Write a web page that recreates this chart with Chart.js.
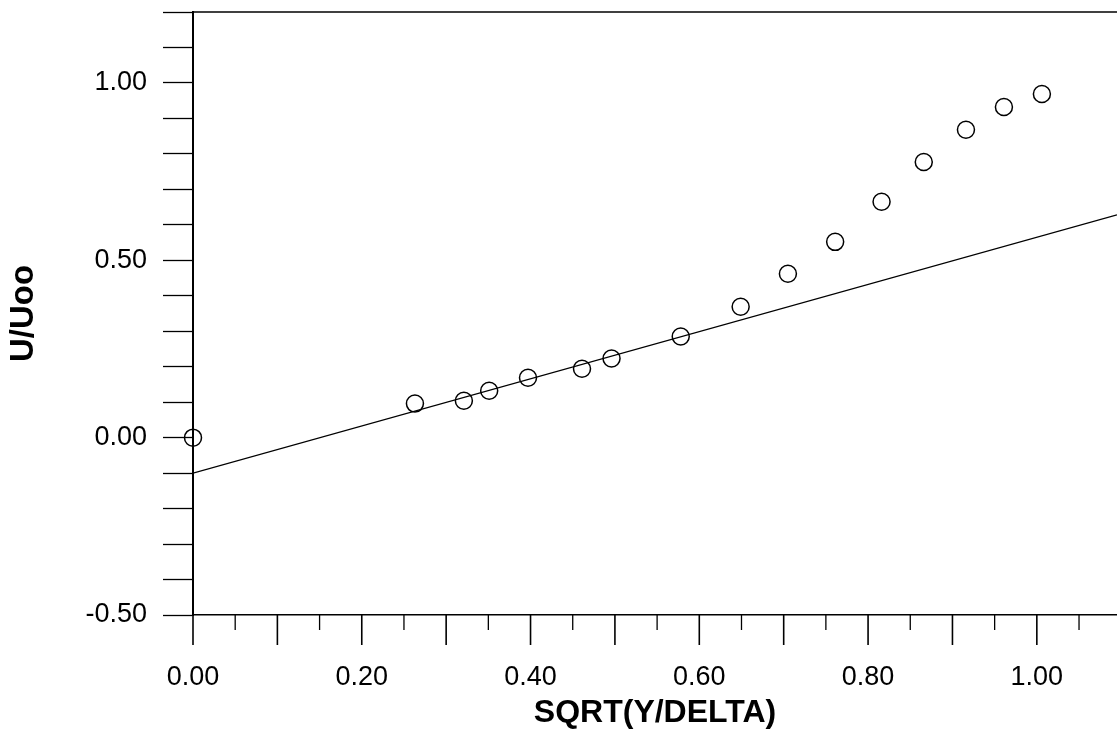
<!DOCTYPE html>
<html>
<head>
<meta charset="utf-8">
<title>U/Uoo vs SQRT(Y/DELTA)</title>
<script src="https://cdn.jsdelivr.net/npm/chart.js@4.4.1/dist/chart.umd.min.js"></script>
<style>
  html, body { margin: 0; padding: 0; background: #fff; overflow: hidden; }
  canvas { display: block; }
</style>
</head>
<body>
<canvas id="profileChart" width="1117" height="738"></canvas>
<script>
const sqrtY = [0.000, 0.263, 0.321, 0.351, 0.397, 0.461, 0.496, 0.578, 0.649, 0.705, 0.761, 0.816, 0.866, 0.916, 0.961, 1.006];
const uRatio = [0.000, 0.096, 0.104, 0.132, 0.169, 0.194, 0.223, 0.285, 0.369, 0.462, 0.552, 0.665, 0.777, 0.868, 0.932, 0.969];

// straight fit line, end points
const fitX = [0.000, 1.095];
const fitY = [-0.100, 0.628];

// axis ranges and ticks
const xMin = 0, xMax = 1.095;
const yMin = -0.5, yMax = 1.2;
const xTickValues = [0.00, 0.05, 0.10, 0.15, 0.20, 0.25, 0.30, 0.35, 0.40, 0.45, 0.50,
                     0.55, 0.60, 0.65, 0.70, 0.75, 0.80, 0.85, 0.90, 0.95, 1.00, 1.05];
const xTickLabels = ['0.00', '0.20', '0.40', '0.60', '0.80', '1.00'];
const yTickValues = [-0.5, -0.4, -0.3, -0.2, -0.1, 0.0, 0.1, 0.2, 0.3, 0.4, 0.5,
                     0.6, 0.7, 0.8, 0.9, 1.0, 1.1, 1.2];
const yTickLabels = ['-0.50', '0.00', '0.50', '1.00'];

const fontFamily = '"Liberation Sans", Arial, Helvetica, sans-serif';

// pick the label for a tick value, or blank
function labelFor(value, labels) {
    const txt = value.toFixed(2);
    return labels.includes(txt) ? txt : '';
}

// top frame line and the bottom tick marks (long every 0.1, short in between)
const framePlugin = {
    id: 'framePlugin',
    afterDraw(chart) {
        const { ctx, chartArea, scales } = chart;
        ctx.save();
        ctx.strokeStyle = '#000';
        ctx.lineWidth = 1.3;
        ctx.beginPath();
        ctx.moveTo(chartArea.left, chartArea.top);
        ctx.lineTo(chartArea.right, chartArea.top);
        ctx.stroke();

        const yBase = scales.y.getPixelForValue(yMin);
        xTickValues.forEach(v => {
            const px = scales.x.getPixelForValue(v);
            const isMajor = Math.abs(v * 10 - Math.round(v * 10)) < 1e-6;
            ctx.beginPath();
            ctx.lineWidth = isMajor ? 1.6 : 1.3;
            ctx.moveTo(px, yBase);
            ctx.lineTo(px, yBase + (isMajor ? 30 : 15));
            ctx.stroke();
        });
        ctx.restore();
    }
};

const ctx = document.getElementById('profileChart').getContext('2d');
new Chart(ctx, {
    type: 'scatter',
    data: {
        datasets: [
            {
                label: 'fit',
                data: fitX.map((x, i) => ({ x: x, y: fitY[i] })),
                showLine: true,
                borderColor: '#000',
                borderWidth: 1.4,
                pointRadius: 0,
                fill: false
            },
            {
                label: 'U/Uoo',
                data: sqrtY.map((x, i) => ({ x: x, y: uRatio[i] })),
                pointStyle: 'circle',
                pointRadius: 8.5,
                pointBorderWidth: 1.5,
                pointBorderColor: '#000',
                pointBackgroundColor: 'rgba(0,0,0,0)',
                clip: false
            }
        ]
    },
    options: {
        responsive: false,
        animation: false,
        devicePixelRatio: 1,
        layout: {
            autoPadding: false,
            padding: { top: 12, right: 0, left: 0, bottom: 0 }
        },
        plugins: {
            legend: { display: false },
            tooltip: { enabled: false }
        },
        scales: {
            x: {
                type: 'linear',
                min: xMin,
                max: xMax,
                afterBuildTicks: scale => {
                    scale.ticks = xTickValues.map(v => ({ value: v }));
                },
                afterFit: scale => {
                    scale.height = 123;
                    scale.paddingLeft = 0;
                    scale.paddingRight = 0;
                },
                grid: { display: false },
                border: { display: true, color: '#000', width: 1.5 },
                ticks: {
                    autoSkip: false,
                    maxRotation: 0,
                    padding: 38,
                    color: '#000',
                    font: { family: fontFamily, size: 27 },
                    callback: value => labelFor(value, xTickLabels)
                },
                title: {
                    display: true,
                    text: 'SQRT(Y/DELTA)',
                    color: '#000',
                    font: { family: fontFamily, size: 32, weight: 'bold' },
                    padding: { top: 0, bottom: 6 }
                }
            },
            y: {
                type: 'linear',
                min: yMin,
                max: yMax,
                afterBuildTicks: scale => {
                    scale.ticks = yTickValues.map(v => ({ value: v }));
                },
                afterFit: scale => {
                    scale.width = 193;
                    scale.paddingTop = 0;
                    scale.paddingBottom = 0;
                },
                grid: {
                    display: true,
                    drawOnChartArea: false,
                    drawTicks: true,
                    tickLength: 30,
                    tickColor: '#000',
                    tickWidth: 1.3
                },
                border: { display: true, color: '#000', width: 2 },
                ticks: {
                    autoSkip: false,
                    padding: 16,
                    color: '#000',
                    font: { family: fontFamily, size: 27 },
                    callback: value => labelFor(value, yTickLabels)
                },
                title: {
                    display: true,
                    text: 'U/Uoo',
                    color: '#000',
                    font: { family: fontFamily, size: 33, weight: 'bold' },
                    padding: { top: 4, bottom: 0 }
                }
            }
        }
    },
    plugins: [framePlugin]
});
</script>
</body>
</html>
